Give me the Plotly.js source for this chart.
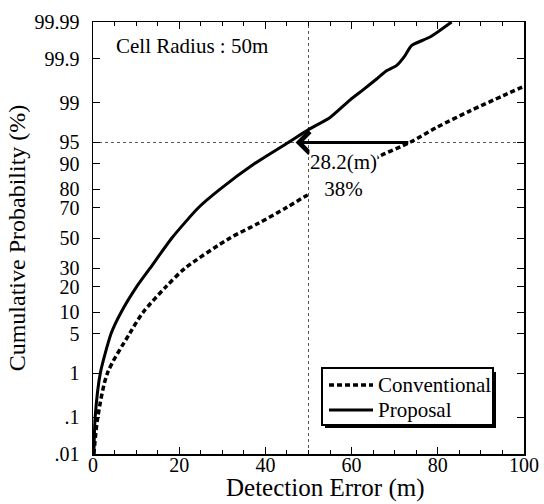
<!DOCTYPE html>
<html>
<head>
<meta charset="utf-8">
<script src="https://cdn.plot.ly/plotly-3.0.1.min.js"></script>
<style>html,body{margin:0;padding:0;background:#fff;}#plot{width:544px;height:504px;}</style>
</head>
<body>
<div id="plot"></div>
<script>
// Detection error (m) and cumulative probability (%)
var convX = [0.2, 1.1, 3.35, 8.5, 11.6, 16.9, 21.3, 31.8, 38.4, 44.9, 49.6, 66.6, 73.5, 79.7, 87.5, 95.2, 100];
var convP = [0.01, 0.1, 1, 5, 10, 20, 30, 50, 60, 70, 76.8, 92.1, 95, 97.15, 98.57, 99.29, 99.55];
var propX = [0.2, 0.5, 1.7, 4.2, 6.5, 10.1, 13.2, 18.3, 24.5, 29.5, 37.5, 45.3, 50.0, 55.0, 59.6, 62.5, 65.8, 68.1, 70.4, 72.4, 73.9, 78.2, 83.2];
var propP = [0.01, 0.1, 1, 5, 10, 20, 30, 50, 70, 80, 90, 95, 96.9, 98.1, 99.12, 99.45, 99.69, 99.80, 99.85, 99.916, 99.954, 99.973, 99.99];
var yTickPct = [0.01, 0.1, 1, 5, 10, 20, 30, 50, 70, 80, 90, 95, 99, 99.9, 99.99];
var yTickText = ['.01', '.1', '1', '5', '10', '20', '30', '50', '70', '80', '90', '95', '99', '99.9', '99.99'];
var xTicks = [0, 20, 40, 60, 80, 100];
var seriesNames = ['Conventional', 'Proposal'];
var refX = 50, refP = 95;
var arrowFrom = 73.5, arrowTo = 47.0;

function probit(p) {
  var a = [-3.969683028665376e+01, 2.209460984245205e+02, -2.759285104469687e+02, 1.383577518672690e+02, -3.066479806614716e+01, 2.506628277459239e+00];
  var b = [-5.447609879822406e+01, 1.615858368580409e+02, -1.556989798598866e+02, 6.680131188771972e+01, -1.328068155288572e+01];
  var c = [-7.784894002430293e-03, -3.223964580411365e-01, -2.400758277161838e+00, -2.549671348283429e+00, 4.374664141464968e+00, 2.938163982698783e+00];
  var d = [7.784695709041462e-03, 3.224671290700398e-01, 2.445134137142996e+00, 3.754408661907416e+00];
  var plow = 0.02425, phigh = 1 - plow, q, r;
  if (p < plow) {
    q = Math.sqrt(-2 * Math.log(p));
    return (((((c[0]*q+c[1])*q+c[2])*q+c[3])*q+c[4])*q+c[5]) / ((((d[0]*q+d[1])*q+d[2])*q+d[3])*q+1);
  } else if (p <= phigh) {
    q = p - 0.5; r = q*q;
    return (((((a[0]*r+a[1])*r+a[2])*r+a[3])*r+a[4])*r+a[5])*q / (((((b[0]*r+b[1])*r+b[2])*r+b[3])*r+b[4])*r+1);
  } else {
    q = Math.sqrt(-2 * Math.log(1 - p));
    return -(((((c[0]*q+c[1])*q+c[2])*q+c[3])*q+c[4])*q+c[5]) / ((((d[0]*q+d[1])*q+d[2])*q+d[3])*q+1);
  }
}
function z(pct) { return probit(pct / 100); }

var FONT = '"Liberation Serif", "Times New Roman", Times, serif';

var traces = [
  {x: convX, y: convP.map(z), type: 'scatter', mode: 'lines', name: seriesNames[0], showlegend: false,
   line: {color: '#000', width: 3.5, dash: '5px,3px', shape: 'spline', smoothing: 0.8}},
  {x: propX, y: propP.map(z), type: 'scatter', mode: 'lines', name: seriesNames[1], showlegend: false,
   line: {color: '#000', width: 3, shape: 'spline', smoothing: 0.6}}
];

var zTop = z(99.99), zBot = z(0.01);
function px(v) { return (v - 93) / 431; }
function py(v) { return (454 - v) / 432; }

var layout = {
  width: 544, height: 504, autosize: false,
  margin: {l: 93, r: 20, t: 22, b: 50},
  paper_bgcolor: '#fff', plot_bgcolor: '#fff',
  font: {family: FONT, color: '#000', size: 20},
  showlegend: false,
  xaxis: {range: [0, 100], tickvals: xTicks, ticks: 'inside', ticklen: 7, tickwidth: 1, tickcolor: '#000',
          showline: true, linecolor: '#000', linewidth: 1.5, mirror: 'ticks', showgrid: false, zeroline: false,
          minor: {dtick: 5, ticks: 'inside', ticklen: 4, tickcolor: '#000', showgrid: false},
          tickfont: {size: 20, family: FONT}, automargin: false, ticklabelstandoff: -8},
  yaxis: {range: [zBot, zTop], tickvals: yTickPct.map(z), ticktext: yTickText, ticks: 'inside', ticklen: 7,
          tickwidth: 1, tickcolor: '#000', showline: true, linecolor: '#000', linewidth: 1.5, mirror: 'ticks',
          showgrid: false, zeroline: false, tickfont: {size: 20, family: FONT}, automargin: false, ticklabelstandoff: 8,
          title: {text: 'Cumulative Probability (%)', font: {size: 24, family: FONT}, standoff: 2}},
  shapes: [
    {type: 'line', xref: 'x', yref: 'paper', x0: refX, x1: refX, y0: 0, y1: 1,
     line: {color: '#555', width: 1, dash: 'dot'}, layer: 'below'},
    {type: 'line', xref: 'paper', yref: 'y', x0: 0, x1: 1, y0: z(refP), y1: z(refP),
     line: {color: '#555', width: 1, dash: 'dot'}, layer: 'below'},
    // legend box with drop shadow
    {type: 'rect', xref: 'paper', yref: 'paper', x0: px(325), x1: px(496), y0: py(428), y1: py(372),
     fillcolor: '#000', line: {width: 0}, layer: 'above'},
    {type: 'rect', xref: 'paper', yref: 'paper', x0: px(322), x1: px(493), y0: py(425), y1: py(368),
     fillcolor: '#fff', line: {color: '#000', width: 2}, layer: 'above'},
    {type: 'line', xref: 'paper', yref: 'paper', x0: px(329), x1: px(373), y0: py(385), y1: py(385),
     line: {color: '#000', width: 3.5, dash: '5px,3px'}, layer: 'above'},
    {type: 'line', xref: 'paper', yref: 'paper', x0: px(329), x1: px(373), y0: py(410), y1: py(410),
     line: {color: '#000', width: 3}, layer: 'above'}
  ],
  annotations: [
    {x: arrowTo, y: z(refP), ax: arrowFrom, ay: z(refP), axref: 'x', ayref: 'y', xref: 'x', yref: 'y',
     text: '', showarrow: true, arrowhead: 4, arrowsize: 1.4, arrowwidth: 3, arrowcolor: '#000'},
    {x: 58.2, y: 1.078, xref: 'x', yref: 'y', text: '28.2(m)<br>38%', showarrow: false,
     font: {size: 21, family: FONT}, bgcolor: '#fff', borderpad: 0, align: 'center'},
    {x: px(114), y: py(46), xref: 'paper', yref: 'paper', xanchor: 'left', yanchor: 'middle',
     text: 'Cell Radius : 50m', showarrow: false, font: {size: 21, family: FONT}},
    {x: px(376), y: py(385), xref: 'paper', yref: 'paper', xanchor: 'left', yanchor: 'middle',
     text: seriesNames[0], showarrow: false, font: {size: 21, family: FONT}},
    {x: px(376), y: py(410), xref: 'paper', yref: 'paper', xanchor: 'left', yanchor: 'middle',
     text: seriesNames[1], showarrow: false, font: {size: 21, family: FONT}},
    {x: px(325), y: py(472), xref: 'paper', yref: 'paper', xanchor: 'center', yanchor: 'top',
     text: 'Detection Error (m)', showarrow: false, font: {size: 25, family: FONT}}
  ]
};

Plotly.newPlot('plot', traces, layout, {displayModeBar: false, staticPlot: true});
</script>
</body>
</html>
